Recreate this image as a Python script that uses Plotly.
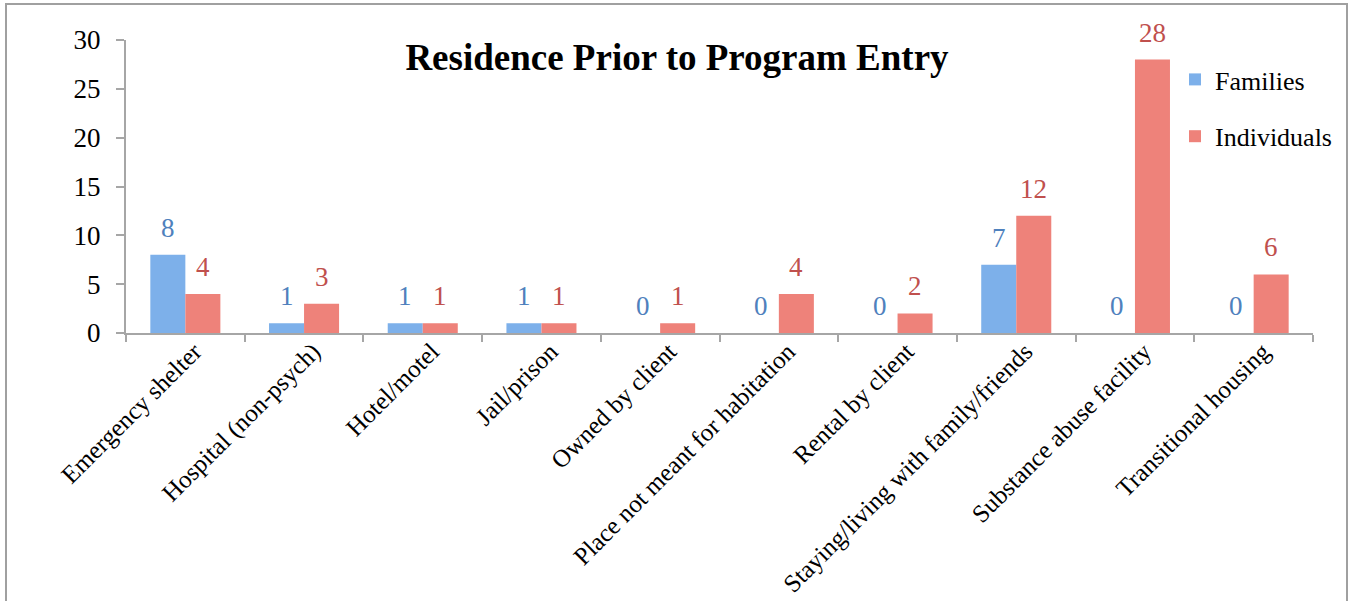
import plotly.graph_objects as go

categories = ["Emergency shelter", "Hospital (non-psych)", "Hotel/motel", "Jail/prison",
              "Owned by client", "Place not meant for habitation", "Rental by client",
              "Staying/living with family/friends", "Substance abuse facility",
              "Transitional housing"]
families = [8, 1, 1, 1, 0, 0, 0, 7, 0, 0]
individuals = [4, 3, 1, 1, 1, 4, 2, 12, 28, 6]
y_ticks = [0, 5, 10, 15, 20, 25, 30]

FONT = "Liberation Serif"
BLUE_BAR = "#7DB0EA"
RED_BAR = "#EE827A"
BLUE_TXT = "#4F81BD"
RED_TXT = "#C0504D"
AXIS = "#A6A6A6"

fig = go.Figure()
fig.add_trace(go.Bar(name="Families", x=categories, y=families,
                     marker=dict(color=BLUE_BAR, line=dict(width=0)),
                     legendgroup="f"))
fig.add_trace(go.Bar(name="Individuals", x=categories, y=individuals,
                     marker=dict(color=RED_BAR, line=dict(width=0)),
                     legendgroup="i"))

L, R, T, B = 126, 38, 40, 268
W, H = 1351, 601
pw = W - L - R
ph = H - T - B
bar_w = pw / len(categories) * (1 - 0.41) / 2

annotations = []
for c, v in zip(categories, families):
    annotations.append(dict(x=c, y=v, xref="x", yref="y", text=str(v), showarrow=False,
                            xshift=-bar_w / 2, yshift=10, yanchor="bottom",
                            font=dict(family=FONT, size=27, color=BLUE_TXT)))
for c, v in zip(categories, individuals):
    annotations.append(dict(x=c, y=v, xref="x", yref="y", text=str(v), showarrow=False,
                            xshift=bar_w / 2, yshift=10, yanchor="bottom",
                            font=dict(family=FONT, size=27, color=RED_TXT)))

fig.update_layout(
    template="none",
    width=W, height=H,
    margin=dict(l=L, r=R, t=T, b=B, pad=0, autoexpand=False),
    paper_bgcolor="white", plot_bgcolor="white",
    barmode="group", bargap=0.41, bargroupgap=0,
    title=dict(text="<b>Residence Prior to Program Entry</b>", x=677 / W, xanchor="center",
               y=1 - 57 / H, yanchor="middle",
               font=dict(family=FONT, size=37, color="black")),
    font=dict(family=FONT, color="black"),
    showlegend=True,
    legend=dict(x=(1175 - L) / pw, xanchor="left", y=1 - (56 - T) / ph, yanchor="top",
                font=dict(family=FONT, size=26, color="black"),
                traceorder="grouped", tracegroupgap=20,
                bgcolor="rgba(0,0,0,0)", borderwidth=0),
    xaxis=dict(type="category", showline=True, linecolor=AXIS, linewidth=2,
               ticks="outside", tickson="boundaries", ticklen=7, tickcolor=AXIS, tickwidth=2,
               tickangle=-45, tickfont=dict(family=FONT, size=25, color="black"),
               ticklabelshift=9, ticklabelstandoff=-8,
               showgrid=False, zeroline=False, automargin=False),
    yaxis=dict(range=[0, 30], tickvals=y_ticks, showline=True, linecolor=AXIS, linewidth=2,
               ticks="outside", ticklen=8, tickcolor=AXIS, tickwidth=2,
               ticklabelstandoff=10,
               tickfont=dict(family=FONT, size=27, color="black"),
               showgrid=False, zeroline=False, automargin=False),
    annotations=annotations,
    shapes=[dict(type="rect", xref="paper", yref="paper",
                 x0=(6 - L) / pw, x1=(1347 - L) / pw,
                 y0=-(620 - (H - B)) / ph, y1=1 + (T - 4) / ph,
                 line=dict(color="#A0A0A0", width=2), layer="below")],
)

fig.write_html("out.html", config={"displayModeBar": False},
               post_script="document.body.style.margin='0';document.body.style.overflow='hidden';")
